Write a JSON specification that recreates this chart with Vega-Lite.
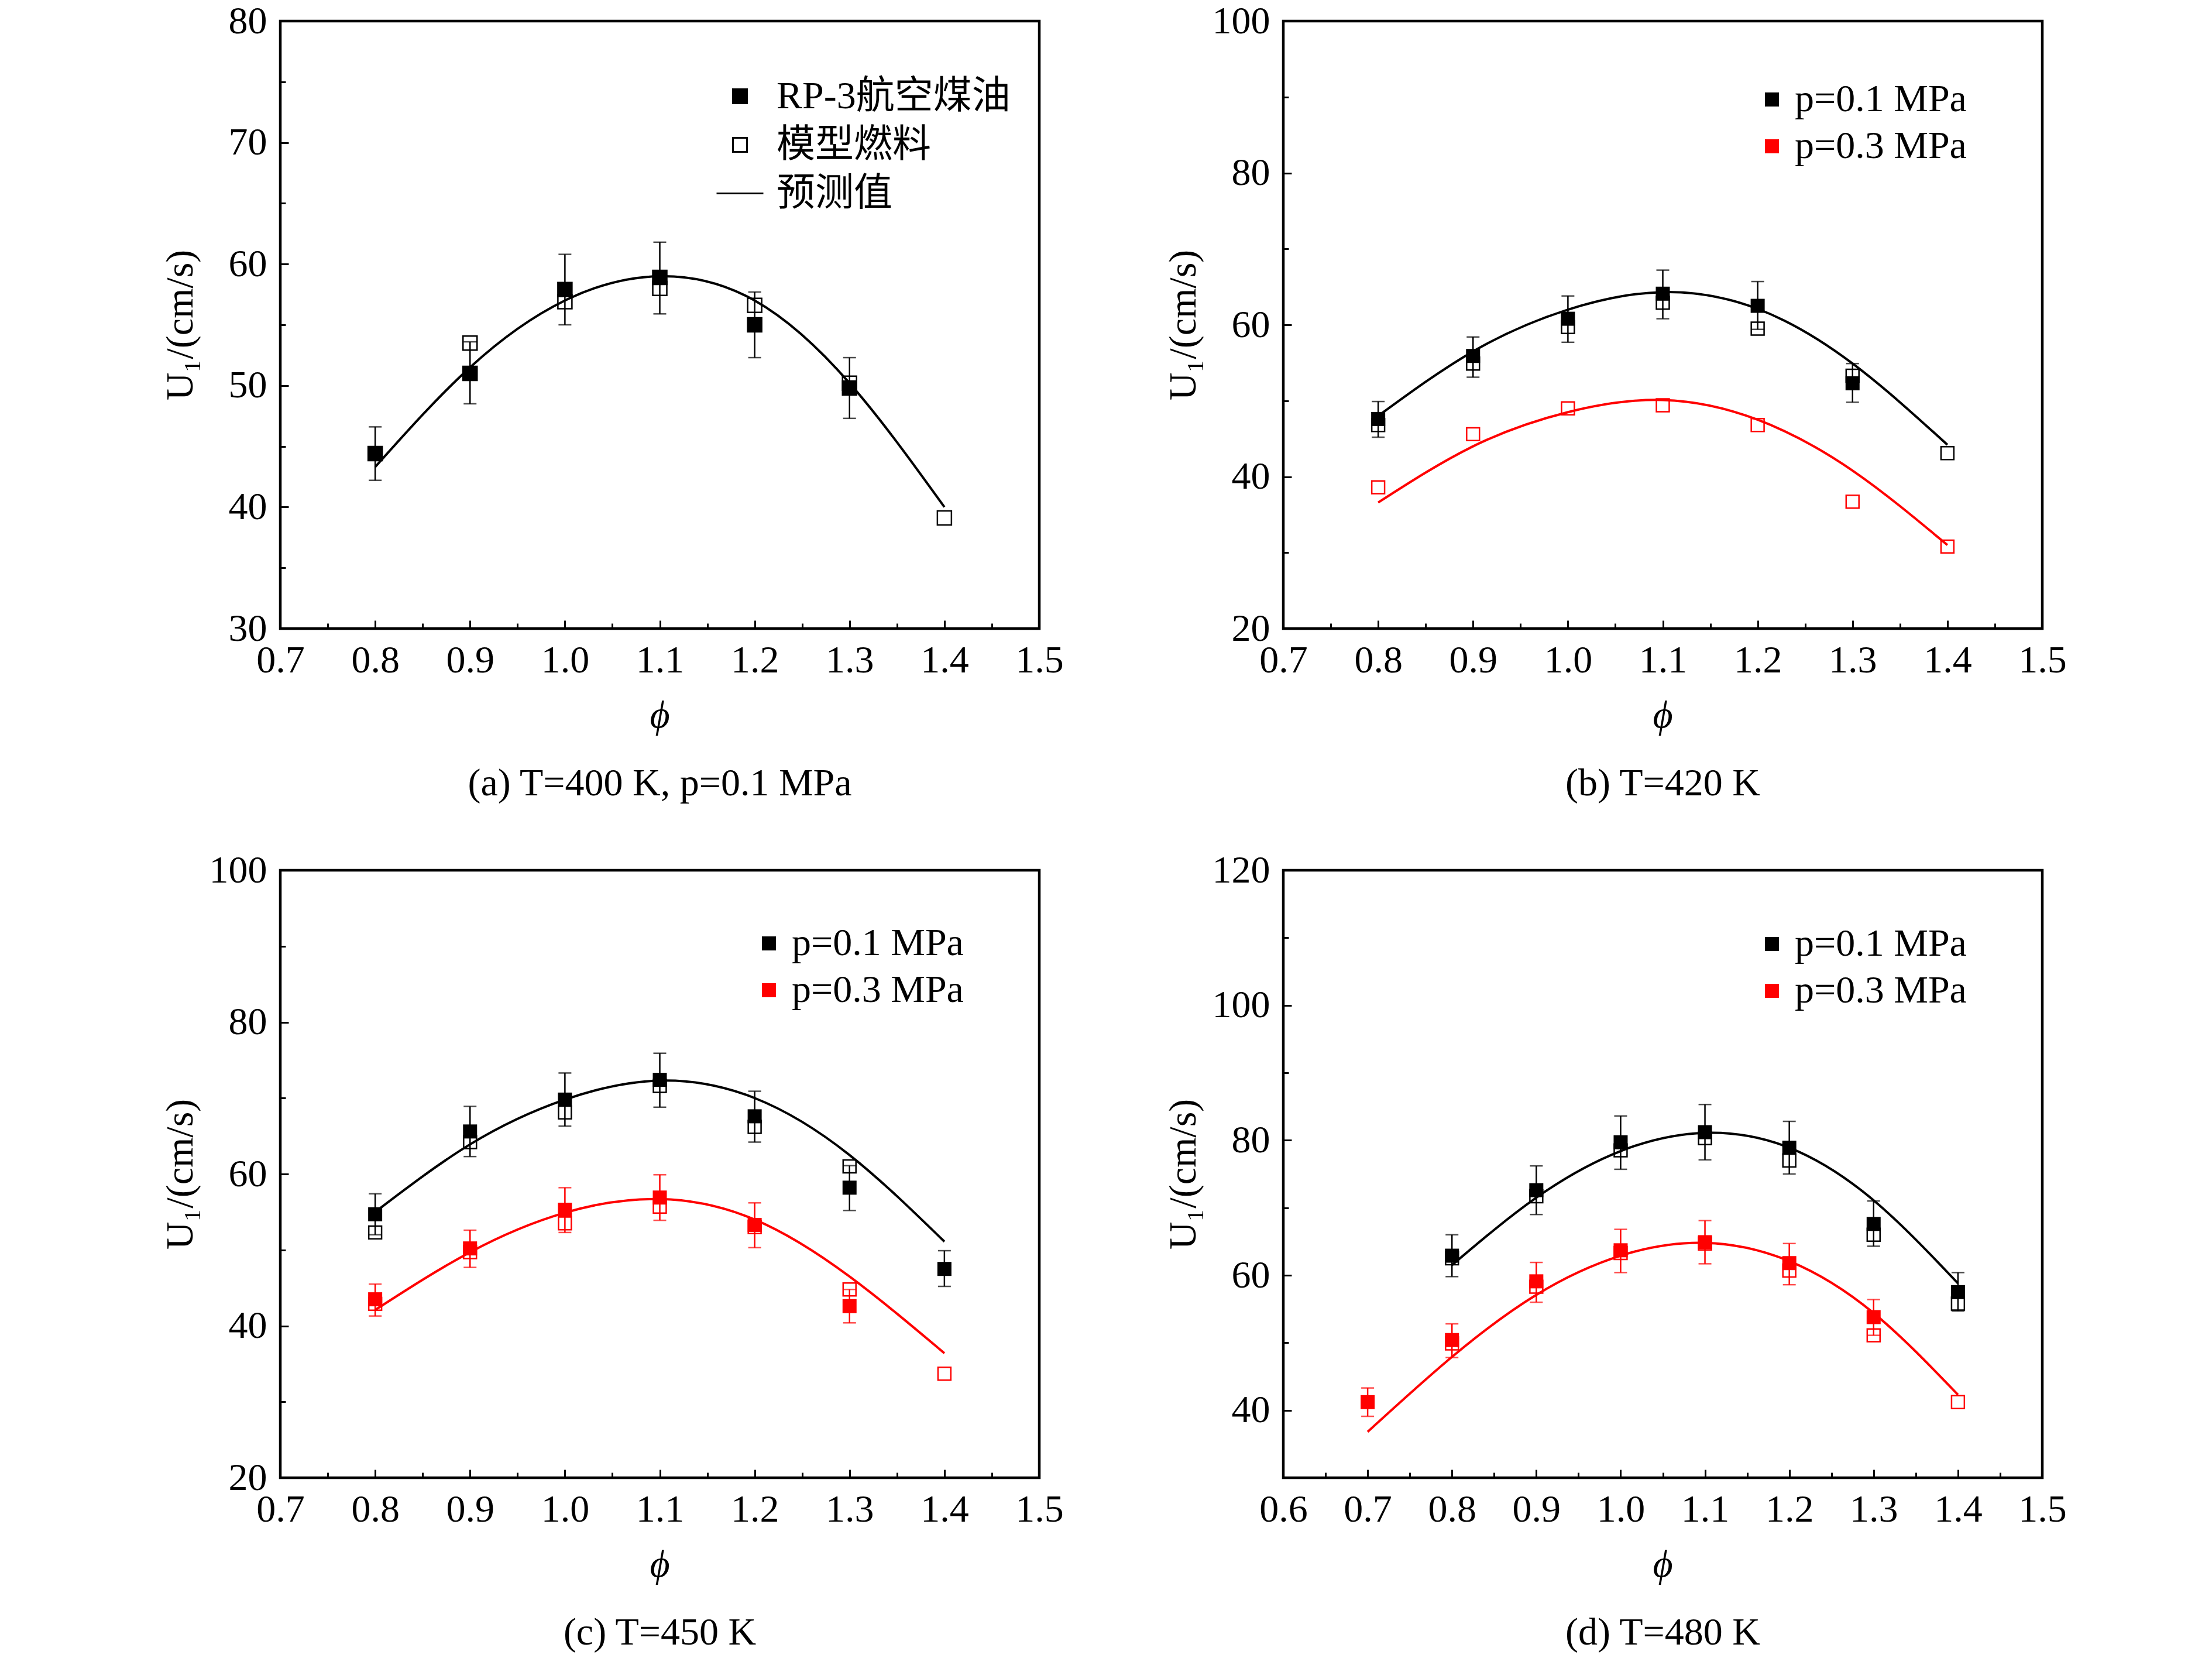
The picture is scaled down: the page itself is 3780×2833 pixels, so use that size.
{
"$schema": "https://vega.github.io/schema/vega-lite/v6.json",
"background": "white",
"padding": {"left": 272, "top": 0, "right": 0, "bottom": 0},
"config": {
 "font": "Liberation Serif",
 "view": {"stroke": "black", "strokeWidth": 4.5},
 "axis": {"domain": false, "grid": false, "tickColor": "black", "tickWidth": 3, "labelFont": "Liberation Serif", "labelFontSize": 66, "labelColor": "black", "labelOverlap": false, "labelFlush": false, "labelBound": false, "titleFont": "Liberation Serif", "titleFontSize": 66, "titleColor": "black", "titleFontWeight": "normal"},
 "title": {"orient": "bottom", "font": "Liberation Serif", "fontSize": 66, "fontWeight": "normal", "color": "black", "anchor": "middle", "frame": "group", "offset": 52},
 "legend": {"labelFont": "Liberation Serif, Noto Sans CJK SC", "labelFontSize": 66, "labelColor": "black", "padding": 0, "labelLimit": 0}
},
"datasets": {
 "a": [
  {"t":"exp","s":"RP-3航空煤油","x":0.8,"u":44.4,"lo":42.2,"hi":46.6},
  {"t":"exp","s":"RP-3航空煤油","x":0.9,"u":51.0,"lo":48.5,"hi":53.6},
  {"t":"exp","s":"RP-3航空煤油","x":1.0,"u":57.9,"lo":55.0,"hi":60.8},
  {"t":"exp","s":"RP-3航空煤油","x":1.1,"u":58.9,"lo":55.9,"hi":61.8},
  {"t":"exp","s":"RP-3航空煤油","x":1.2,"u":55.0,"lo":52.3,"hi":57.7},
  {"t":"exp","s":"RP-3航空煤油","x":1.3,"u":49.8,"lo":47.3,"hi":52.3},
  {"t":"model","s":"模型燃料","x":0.9,"u":53.5},
  {"t":"model","s":"模型燃料","x":1.0,"u":56.9},
  {"t":"model","s":"模型燃料","x":1.1,"u":58.0},
  {"t":"model","s":"模型燃料","x":1.2,"u":56.6},
  {"t":"model","s":"模型燃料","x":1.3,"u":50.2},
  {"t":"model","s":"模型燃料","x":1.4,"u":39.1},
  {"t":"pred","s":"预测值","x":0.8,"u":43.3},
  {"t":"pred","s":"预测值","x":0.9,"u":51.5},
  {"t":"pred","s":"预测值","x":1.0,"u":57.0},
  {"t":"pred","s":"预测值","x":1.1,"u":59.0},
  {"t":"pred","s":"预测值","x":1.2,"u":57.0},
  {"t":"pred","s":"预测值","x":1.3,"u":50.2},
  {"t":"pred","s":"预测值","x":1.4,"u":40.0}
 ],
 "b": [
  {"t":"exp","s":"p=0.1 MPa","x":0.8,"u":47.6,"lo":45.2,"hi":49.9},
  {"t":"exp","s":"p=0.1 MPa","x":0.9,"u":55.9,"lo":53.1,"hi":58.4},
  {"t":"exp","s":"p=0.1 MPa","x":1.0,"u":60.8,"lo":57.7,"hi":63.8},
  {"t":"exp","s":"p=0.1 MPa","x":1.1,"u":64.1,"lo":60.8,"hi":67.2},
  {"t":"exp","s":"p=0.1 MPa","x":1.2,"u":62.5,"lo":59.4,"hi":65.7},
  {"t":"exp","s":"p=0.1 MPa","x":1.3,"u":52.3,"lo":49.8,"hi":54.9},
  {"t":"model","s":"p=0.1 MPa","x":0.8,"u":46.8},
  {"t":"model","s":"p=0.1 MPa","x":0.9,"u":54.9},
  {"t":"model","s":"p=0.1 MPa","x":1.0,"u":59.7},
  {"t":"model","s":"p=0.1 MPa","x":1.1,"u":62.9},
  {"t":"model","s":"p=0.1 MPa","x":1.2,"u":59.5},
  {"t":"model","s":"p=0.1 MPa","x":1.3,"u":53.3},
  {"t":"model","s":"p=0.1 MPa","x":1.4,"u":43.1},
  {"t":"model","s":"p=0.3 MPa","x":0.8,"u":38.6},
  {"t":"model","s":"p=0.3 MPa","x":0.9,"u":45.6},
  {"t":"model","s":"p=0.3 MPa","x":1.0,"u":49.0},
  {"t":"model","s":"p=0.3 MPa","x":1.1,"u":49.4},
  {"t":"model","s":"p=0.3 MPa","x":1.2,"u":46.8},
  {"t":"model","s":"p=0.3 MPa","x":1.3,"u":36.7},
  {"t":"model","s":"p=0.3 MPa","x":1.4,"u":30.8},
  {"t":"pred","s":"p=0.1 MPa","x":0.8,"u":48.0},
  {"t":"pred","s":"p=0.1 MPa","x":0.9,"u":56.5},
  {"t":"pred","s":"p=0.1 MPa","x":1.0,"u":62.0},
  {"t":"pred","s":"p=0.1 MPa","x":1.1,"u":64.3},
  {"t":"pred","s":"p=0.1 MPa","x":1.2,"u":62.1},
  {"t":"pred","s":"p=0.1 MPa","x":1.3,"u":54.9},
  {"t":"pred","s":"p=0.1 MPa","x":1.4,"u":44.2},
  {"t":"pred","s":"p=0.3 MPa","x":0.8,"u":36.6},
  {"t":"pred","s":"p=0.3 MPa","x":0.9,"u":44.0},
  {"t":"pred","s":"p=0.3 MPa","x":1.0,"u":48.5},
  {"t":"pred","s":"p=0.3 MPa","x":1.1,"u":50.1},
  {"t":"pred","s":"p=0.3 MPa","x":1.2,"u":47.5},
  {"t":"pred","s":"p=0.3 MPa","x":1.3,"u":40.8},
  {"t":"pred","s":"p=0.3 MPa","x":1.4,"u":31.0}
 ],
 "c": [
  {"t":"exp","s":"p=0.1 MPa","x":0.8,"u":54.7,"lo":52.0,"hi":57.4},
  {"t":"exp","s":"p=0.1 MPa","x":0.9,"u":65.6,"lo":62.3,"hi":68.9},
  {"t":"exp","s":"p=0.1 MPa","x":1.0,"u":69.8,"lo":66.3,"hi":73.3},
  {"t":"exp","s":"p=0.1 MPa","x":1.1,"u":72.4,"lo":68.8,"hi":75.9},
  {"t":"exp","s":"p=0.1 MPa","x":1.2,"u":67.6,"lo":64.2,"hi":70.9},
  {"t":"exp","s":"p=0.1 MPa","x":1.3,"u":58.2,"lo":55.2,"hi":61.1},
  {"t":"exp","s":"p=0.1 MPa","x":1.4,"u":47.5,"lo":45.2,"hi":49.9},
  {"t":"exp","s":"p=0.3 MPa","x":0.8,"u":43.5,"lo":41.3,"hi":45.5},
  {"t":"exp","s":"p=0.3 MPa","x":0.9,"u":50.2,"lo":47.7,"hi":52.6},
  {"t":"exp","s":"p=0.3 MPa","x":1.0,"u":55.3,"lo":52.3,"hi":58.2},
  {"t":"exp","s":"p=0.3 MPa","x":1.1,"u":56.9,"lo":53.9,"hi":59.9},
  {"t":"exp","s":"p=0.3 MPa","x":1.2,"u":53.3,"lo":50.3,"hi":56.2},
  {"t":"exp","s":"p=0.3 MPa","x":1.3,"u":42.6,"lo":40.4,"hi":44.8},
  {"t":"model","s":"p=0.1 MPa","x":0.8,"u":52.3},
  {"t":"model","s":"p=0.1 MPa","x":0.9,"u":64.2},
  {"t":"model","s":"p=0.1 MPa","x":1.0,"u":68.1},
  {"t":"model","s":"p=0.1 MPa","x":1.1,"u":71.6},
  {"t":"model","s":"p=0.1 MPa","x":1.2,"u":66.2},
  {"t":"model","s":"p=0.1 MPa","x":1.3,"u":61.0},
  {"t":"model","s":"p=0.3 MPa","x":0.8,"u":42.9},
  {"t":"model","s":"p=0.3 MPa","x":0.9,"u":49.7},
  {"t":"model","s":"p=0.3 MPa","x":1.0,"u":53.5},
  {"t":"model","s":"p=0.3 MPa","x":1.1,"u":55.7},
  {"t":"model","s":"p=0.3 MPa","x":1.2,"u":53.0},
  {"t":"model","s":"p=0.3 MPa","x":1.3,"u":44.8},
  {"t":"model","s":"p=0.3 MPa","x":1.4,"u":33.7},
  {"t":"pred","s":"p=0.1 MPa","x":0.8,"u":55.0},
  {"t":"pred","s":"p=0.1 MPa","x":0.9,"u":63.9},
  {"t":"pred","s":"p=0.1 MPa","x":1.0,"u":69.8},
  {"t":"pred","s":"p=0.1 MPa","x":1.1,"u":72.3},
  {"t":"pred","s":"p=0.1 MPa","x":1.2,"u":70.0},
  {"t":"pred","s":"p=0.1 MPa","x":1.3,"u":62.5},
  {"t":"pred","s":"p=0.1 MPa","x":1.4,"u":51.1},
  {"t":"pred","s":"p=0.3 MPa","x":0.8,"u":42.1},
  {"t":"pred","s":"p=0.3 MPa","x":0.9,"u":49.7},
  {"t":"pred","s":"p=0.3 MPa","x":1.0,"u":54.9},
  {"t":"pred","s":"p=0.3 MPa","x":1.1,"u":56.7},
  {"t":"pred","s":"p=0.3 MPa","x":1.2,"u":54.0},
  {"t":"pred","s":"p=0.3 MPa","x":1.3,"u":46.5},
  {"t":"pred","s":"p=0.3 MPa","x":1.4,"u":36.4}
 ],
 "d": [
  {"t":"exp","s":"p=0.1 MPa","x":0.8,"u":62.9,"lo":59.8,"hi":66.0},
  {"t":"exp","s":"p=0.1 MPa","x":0.9,"u":72.6,"lo":69.0,"hi":76.2},
  {"t":"exp","s":"p=0.1 MPa","x":1.0,"u":79.7,"lo":75.7,"hi":83.6},
  {"t":"exp","s":"p=0.1 MPa","x":1.1,"u":81.2,"lo":77.1,"hi":85.3},
  {"t":"exp","s":"p=0.1 MPa","x":1.2,"u":78.9,"lo":75.0,"hi":82.8},
  {"t":"exp","s":"p=0.1 MPa","x":1.3,"u":67.6,"lo":64.3,"hi":71.0},
  {"t":"exp","s":"p=0.1 MPa","x":1.4,"u":57.5,"lo":54.7,"hi":60.4},
  {"t":"exp","s":"p=0.3 MPa","x":0.7,"u":41.2,"lo":39.1,"hi":43.3},
  {"t":"exp","s":"p=0.3 MPa","x":0.8,"u":50.4,"lo":47.8,"hi":52.8},
  {"t":"exp","s":"p=0.3 MPa","x":0.9,"u":59.1,"lo":56.0,"hi":61.9},
  {"t":"exp","s":"p=0.3 MPa","x":1.0,"u":63.7,"lo":60.4,"hi":66.8},
  {"t":"exp","s":"p=0.3 MPa","x":1.1,"u":64.9,"lo":61.7,"hi":68.1},
  {"t":"exp","s":"p=0.3 MPa","x":1.2,"u":61.8,"lo":58.6,"hi":64.7},
  {"t":"exp","s":"p=0.3 MPa","x":1.3,"u":53.8,"lo":51.1,"hi":56.4},
  {"t":"model","s":"p=0.1 MPa","x":0.8,"u":62.5},
  {"t":"model","s":"p=0.1 MPa","x":0.9,"u":71.7},
  {"t":"model","s":"p=0.1 MPa","x":1.0,"u":78.5},
  {"t":"model","s":"p=0.1 MPa","x":1.1,"u":80.3},
  {"t":"model","s":"p=0.1 MPa","x":1.2,"u":77.0},
  {"t":"model","s":"p=0.1 MPa","x":1.3,"u":66.0},
  {"t":"model","s":"p=0.1 MPa","x":1.4,"u":55.8},
  {"t":"model","s":"p=0.3 MPa","x":0.8,"u":49.9},
  {"t":"model","s":"p=0.3 MPa","x":0.9,"u":58.3},
  {"t":"model","s":"p=0.3 MPa","x":1.0,"u":63.3},
  {"t":"model","s":"p=0.3 MPa","x":1.1,"u":64.7},
  {"t":"model","s":"p=0.3 MPa","x":1.2,"u":60.7},
  {"t":"model","s":"p=0.3 MPa","x":1.3,"u":51.1},
  {"t":"model","s":"p=0.3 MPa","x":1.4,"u":41.2},
  {"t":"pred","s":"p=0.1 MPa","x":0.8,"u":61.5},
  {"t":"pred","s":"p=0.1 MPa","x":0.9,"u":71.5},
  {"t":"pred","s":"p=0.1 MPa","x":1.0,"u":78.4},
  {"t":"pred","s":"p=0.1 MPa","x":1.1,"u":81.1},
  {"t":"pred","s":"p=0.1 MPa","x":1.2,"u":78.9},
  {"t":"pred","s":"p=0.1 MPa","x":1.3,"u":71.1},
  {"t":"pred","s":"p=0.1 MPa","x":1.4,"u":58.8},
  {"t":"pred","s":"p=0.3 MPa","x":0.7,"u":36.8},
  {"t":"pred","s":"p=0.3 MPa","x":0.8,"u":47.9},
  {"t":"pred","s":"p=0.3 MPa","x":0.9,"u":57.1},
  {"t":"pred","s":"p=0.3 MPa","x":1.0,"u":62.9},
  {"t":"pred","s":"p=0.3 MPa","x":1.1,"u":64.8},
  {"t":"pred","s":"p=0.3 MPa","x":1.2,"u":62.1},
  {"t":"pred","s":"p=0.3 MPa","x":1.3,"u":54.4},
  {"t":"pred","s":"p=0.3 MPa","x":1.4,"u":42.3}
 ]
},
"columns": 2,
"spacing": {"row": 76, "column": 166},
"resolve": {"scale": {"color": "independent", "fill": "independent", "stroke": "independent", "shape": "independent", "size": "independent"}},
"concat": [
 {
  "width": 1297, "height": 1038,
  "data": {"name": "a"},
  "title": {"text": "(a) T=400 K, p=0.1 MPa"},
  "encoding": {"x": {"field": "x", "type": "quantitative", "scale": {"domain": [0.7, 1.5], "nice": false, "zero": false},
    "axis": {"title": "ϕ", "titleFontStyle": "italic", "titleX": 648, "titleY": 148, "titleBaseline": "middle", "titleAlign": "center", "labelPadding": 36,
      "values": [0.7,0.75,0.8,0.85,0.9,0.95,1.0,1.05,1.1,1.15,1.2,1.25,1.3,1.35,1.4,1.45,1.5],
      "labelExpr": "abs(datum.value*10-round(datum.value*10))<0.001 ? format(datum.value,'.1f') : ''",
      "tickSize": {"condition": {"test": "abs(datum.value*10-round(datum.value*10))<0.001", "value": -14}, "value": -9}}}},
  "layer": [
   {"transform": [{"filter": "datum.t=='pred'"}],
    "mark": {"type": "line", "interpolate": "natural", "strokeWidth": 4},
    "encoding": {
     "y": {"field": "u", "type": "quantitative", "scale": {"domain": [30, 80], "nice": false, "zero": false},
       "axis": {"title": "U₁/(cm/s)", "titleX": -171, "titleY": 519, "titleAngle": 270, "titleBaseline": "middle", "titleAlign": "center", "labelPadding": 37,
         "values": [30,35,40,45,50,55,60,65,70,75,80],
         "labelExpr": "datum.value % 10 == 0 ? '' + datum.value : ''",
         "tickSize": {"condition": {"test": "datum.value % 10 == 0", "value": -14}, "value": -9}}},
     "stroke": {"field": "s", "type": "nominal", "scale": {"domain": ["RP-3航空煤油","模型燃料","预测值"], "range": ["black","black","black"]},
       "legend": {"title": null, "orient": "none", "legendX": 744, "legendY": 87, "symbolSize": 6400, "symbolStrokeWidth": 3, "labelOffset": 21, "rowPadding": 8}}}},
   {"transform": [{"filter": "datum.t=='exp'"}],
    "mark": {"type": "errorbar", "color": "black", "thickness": 2.5, "ticks": {"size": 22, "thickness": 2.5}},
    "encoding": {"y": {"field": "lo", "type": "quantitative", "title": "U₁/(cm/s)"}, "y2": {"field": "hi"}}},
   {"transform": [{"filter": "datum.t!='pred'"}],
    "mark": {"type": "point", "size": 6400, "strokeWidth": 2.5, "opacity": 1},
    "encoding": {
     "y": {"field": "u", "type": "quantitative", "title": "U₁/(cm/s)"},
     "shape": {"field": "s", "type": "nominal", "scale": {"domain": ["RP-3航空煤油","模型燃料","预测值"], "range": ["M-0.3,-0.3H0.3V0.3H-0.3Z","M-0.3,-0.3H0.3V0.3H-0.3Z","M-1,0H1"]},
       "legend": {"title": null, "orient": "none", "legendX": 744, "legendY": 87, "symbolSize": 6400, "symbolStrokeWidth": 3, "labelOffset": 21, "rowPadding": 8}},
     "fill": {"field": "s", "type": "nominal", "scale": {"domain": ["RP-3航空煤油","模型燃料","预测值"], "range": ["black","transparent","transparent"]},
       "legend": {"title": null, "orient": "none", "legendX": 744, "legendY": 87, "symbolSize": 6400, "symbolStrokeWidth": 3, "labelOffset": 21, "rowPadding": 8}},
     "stroke": {"field": "s", "type": "nominal"}}}
  ]
 },
 {
  "width": 1297, "height": 1038,
  "data": {"name": "b"},
  "title": {"text": "(b) T=420 K"},
  "encoding": {"x": {"field": "x", "type": "quantitative", "scale": {"domain": [0.7, 1.5], "nice": false, "zero": false},
    "axis": {"title": "ϕ", "titleFontStyle": "italic", "titleX": 648, "titleY": 148, "titleBaseline": "middle", "titleAlign": "center", "labelPadding": 36,
      "values": [0.7,0.75,0.8,0.85,0.9,0.95,1.0,1.05,1.1,1.15,1.2,1.25,1.3,1.35,1.4,1.45,1.5],
      "labelExpr": "abs(datum.value*10-round(datum.value*10))<0.001 ? format(datum.value,'.1f') : ''",
      "tickSize": {"condition": {"test": "abs(datum.value*10-round(datum.value*10))<0.001", "value": -14}, "value": -9}}}},
  "layer": [
   {"transform": [{"filter": "datum.t=='pred'"}],
    "mark": {"type": "line", "interpolate": "natural", "strokeWidth": 4},
    "encoding": {
     "y": {"field": "u", "type": "quantitative", "scale": {"domain": [20, 100], "nice": false, "zero": false},
       "axis": {"title": "U₁/(cm/s)", "titleX": -171, "titleY": 519, "titleAngle": 270, "titleBaseline": "middle", "titleAlign": "center", "labelPadding": 37,
         "values": [20,30,40,50,60,70,80,90,100],
         "labelExpr": "datum.value % 20 == 0 ? '' + datum.value : ''",
         "tickSize": {"condition": {"test": "datum.value % 20 == 0", "value": -14}, "value": -9}}},
     "stroke": {"field": "s", "type": "nominal", "scale": {"domain": ["p=0.3 MPa","p=0.1 MPa"], "range": ["#ff0000","black"]}, "legend": null}}},
   {"transform": [{"filter": "datum.t=='exp'"}],
    "mark": {"type": "errorbar", "thickness": 2.5, "ticks": {"size": 22, "thickness": 2.5}},
    "encoding": {"y": {"field": "lo", "type": "quantitative", "title": "U₁/(cm/s)"}, "y2": {"field": "hi"},
     "color": {"field": "s", "type": "nominal", "scale": {"domain": ["p=0.3 MPa","p=0.1 MPa"], "range": ["#ff0000","black"]}, "legend": null}}},
   {"transform": [{"filter": "datum.t=='model'"}],
    "mark": {"type": "point", "shape": "square", "size": 480, "strokeWidth": 2.5, "filled": false, "opacity": 1},
    "encoding": {"y": {"field": "u", "type": "quantitative", "title": "U₁/(cm/s)"},
     "stroke": {"field": "s", "type": "nominal", "legend": null}}},
   {"transform": [{"filter": "datum.t=='exp'"}],
    "mark": {"type": "point", "shape": "square", "size": 576, "strokeWidth": 0, "filled": true, "opacity": 1},
    "encoding": {"y": {"field": "u", "type": "quantitative", "title": "U₁/(cm/s)"},
     "fill": {"field": "s", "type": "nominal", "scale": {"domain": ["p=0.1 MPa","p=0.3 MPa"], "range": ["black","#ff0000"]},
       "legend": {"title": null, "orient": "none", "legendX": 802, "legendY": 101, "symbolType": "square", "symbolSize": 576, "symbolStrokeWidth": 0, "labelOffset": 6, "rowPadding": 14}}}}
  ]
 },
 {
  "width": 1297, "height": 1038,
  "data": {"name": "c"},
  "title": {"text": "(c) T=450 K"},
  "encoding": {"x": {"field": "x", "type": "quantitative", "scale": {"domain": [0.7, 1.5], "nice": false, "zero": false},
    "axis": {"title": "ϕ", "titleFontStyle": "italic", "titleX": 648, "titleY": 148, "titleBaseline": "middle", "titleAlign": "center", "labelPadding": 36,
      "values": [0.7,0.75,0.8,0.85,0.9,0.95,1.0,1.05,1.1,1.15,1.2,1.25,1.3,1.35,1.4,1.45,1.5],
      "labelExpr": "abs(datum.value*10-round(datum.value*10))<0.001 ? format(datum.value,'.1f') : ''",
      "tickSize": {"condition": {"test": "abs(datum.value*10-round(datum.value*10))<0.001", "value": -14}, "value": -9}}}},
  "layer": [
   {"transform": [{"filter": "datum.t=='pred'"}],
    "mark": {"type": "line", "interpolate": "natural", "strokeWidth": 4},
    "encoding": {
     "y": {"field": "u", "type": "quantitative", "scale": {"domain": [20, 100], "nice": false, "zero": false},
       "axis": {"title": "U₁/(cm/s)", "titleX": -171, "titleY": 519, "titleAngle": 270, "titleBaseline": "middle", "titleAlign": "center", "labelPadding": 37,
         "values": [20,30,40,50,60,70,80,90,100],
         "labelExpr": "datum.value % 20 == 0 ? '' + datum.value : ''",
         "tickSize": {"condition": {"test": "datum.value % 20 == 0", "value": -14}, "value": -9}}},
     "stroke": {"field": "s", "type": "nominal", "scale": {"domain": ["p=0.3 MPa","p=0.1 MPa"], "range": ["#ff0000","black"]}, "legend": null}}},
   {"transform": [{"filter": "datum.t=='exp'"}],
    "mark": {"type": "errorbar", "thickness": 2.5, "ticks": {"size": 22, "thickness": 2.5}},
    "encoding": {"y": {"field": "lo", "type": "quantitative", "title": "U₁/(cm/s)"}, "y2": {"field": "hi"},
     "color": {"field": "s", "type": "nominal", "scale": {"domain": ["p=0.3 MPa","p=0.1 MPa"], "range": ["#ff0000","black"]}, "legend": null}}},
   {"transform": [{"filter": "datum.t=='model'"}],
    "mark": {"type": "point", "shape": "square", "size": 480, "strokeWidth": 2.5, "filled": false, "opacity": 1},
    "encoding": {"y": {"field": "u", "type": "quantitative", "title": "U₁/(cm/s)"},
     "stroke": {"field": "s", "type": "nominal", "legend": null}}},
   {"transform": [{"filter": "datum.t=='exp'"}],
    "mark": {"type": "point", "shape": "square", "size": 576, "strokeWidth": 0, "filled": true, "opacity": 1},
    "encoding": {"y": {"field": "u", "type": "quantitative", "title": "U₁/(cm/s)"},
     "fill": {"field": "s", "type": "nominal", "scale": {"domain": ["p=0.1 MPa","p=0.3 MPa"], "range": ["black","#ff0000"]},
       "legend": {"title": null, "orient": "none", "legendX": 802, "legendY": 92, "symbolType": "square", "symbolSize": 576, "symbolStrokeWidth": 0, "labelOffset": 6, "rowPadding": 14}}}}
  ]
 },
 {
  "width": 1297, "height": 1038,
  "data": {"name": "d"},
  "title": {"text": "(d) T=480 K"},
  "encoding": {"x": {"field": "x", "type": "quantitative", "scale": {"domain": [0.6, 1.5], "nice": false, "zero": false},
    "axis": {"title": "ϕ", "titleFontStyle": "italic", "titleX": 648, "titleY": 148, "titleBaseline": "middle", "titleAlign": "center", "labelPadding": 36,
      "values": [0.6,0.65,0.7,0.75,0.8,0.85,0.9,0.95,1.0,1.05,1.1,1.15,1.2,1.25,1.3,1.35,1.4,1.45,1.5],
      "labelExpr": "abs(datum.value*10-round(datum.value*10))<0.001 ? format(datum.value,'.1f') : ''",
      "tickSize": {"condition": {"test": "abs(datum.value*10-round(datum.value*10))<0.001", "value": -14}, "value": -9}}}},
  "layer": [
   {"transform": [{"filter": "datum.t=='pred'"}],
    "mark": {"type": "line", "interpolate": "natural", "strokeWidth": 4},
    "encoding": {
     "y": {"field": "u", "type": "quantitative", "scale": {"domain": [30, 120], "nice": false, "zero": false},
       "axis": {"title": "U₁/(cm/s)", "titleX": -171, "titleY": 519, "titleAngle": 270, "titleBaseline": "middle", "titleAlign": "center", "labelPadding": 37,
         "values": [40,50,60,70,80,90,100,110,120],
         "labelExpr": "datum.value % 20 == 0 ? '' + datum.value : ''",
         "tickSize": {"condition": {"test": "datum.value % 20 == 0", "value": -14}, "value": -9}}},
     "stroke": {"field": "s", "type": "nominal", "scale": {"domain": ["p=0.3 MPa","p=0.1 MPa"], "range": ["#ff0000","black"]}, "legend": null}}},
   {"transform": [{"filter": "datum.t=='exp'"}],
    "mark": {"type": "errorbar", "thickness": 2.5, "ticks": {"size": 22, "thickness": 2.5}},
    "encoding": {"y": {"field": "lo", "type": "quantitative", "title": "U₁/(cm/s)"}, "y2": {"field": "hi"},
     "color": {"field": "s", "type": "nominal", "scale": {"domain": ["p=0.3 MPa","p=0.1 MPa"], "range": ["#ff0000","black"]}, "legend": null}}},
   {"transform": [{"filter": "datum.t=='model'"}],
    "mark": {"type": "point", "shape": "square", "size": 480, "strokeWidth": 2.5, "filled": false, "opacity": 1},
    "encoding": {"y": {"field": "u", "type": "quantitative", "title": "U₁/(cm/s)"},
     "stroke": {"field": "s", "type": "nominal", "legend": null}}},
   {"transform": [{"filter": "datum.t=='exp'"}],
    "mark": {"type": "point", "shape": "square", "size": 576, "strokeWidth": 0, "filled": true, "opacity": 1},
    "encoding": {"y": {"field": "u", "type": "quantitative", "title": "U₁/(cm/s)"},
     "fill": {"field": "s", "type": "nominal", "scale": {"domain": ["p=0.1 MPa","p=0.3 MPa"], "range": ["black","#ff0000"]},
       "legend": {"title": null, "orient": "none", "legendX": 802, "legendY": 93, "symbolType": "square", "symbolSize": 576, "symbolStrokeWidth": 0, "labelOffset": 6, "rowPadding": 14}}}}
  ]
 }
]
}
